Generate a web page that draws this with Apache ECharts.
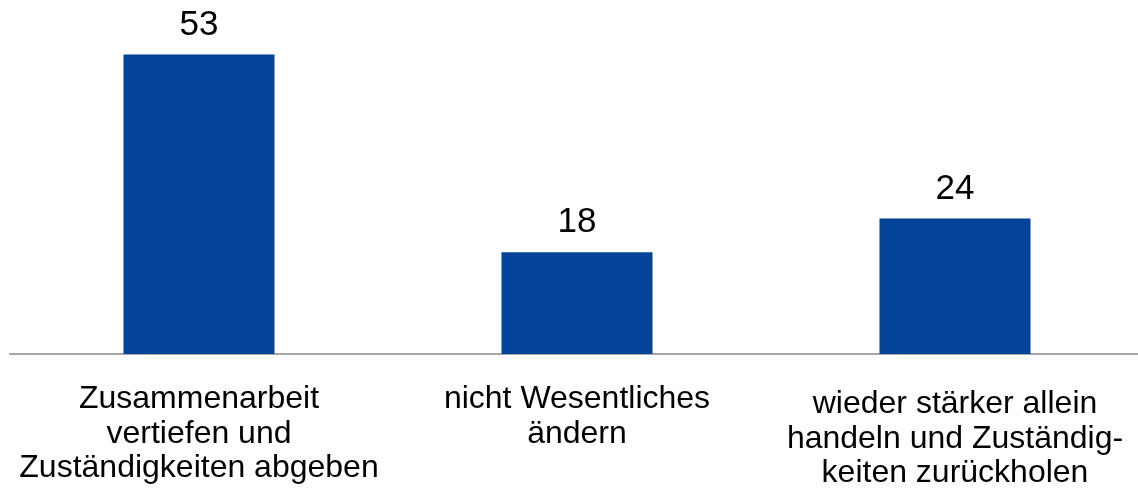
<!DOCTYPE html>
<html>
<head>
<meta charset="utf-8">
<script src="https://cdn.jsdelivr.net/npm/echarts@6/dist/echarts.min.js"></script>
<style>
html,body{margin:0;padding:0;background:#fff;overflow:hidden;}
#chart{width:1144px;height:494px;}
</style>
</head>
<body>
<div id="chart"></div>
<script>
const categories = [
  "Zusammenarbeit\nvertiefen und\nZuständigkeiten abgeben",
  "nicht Wesentliches\nändern",
  "wieder stärker allein\nhandeln und Zuständig-\nkeiten zurückholen"
];
const values = [53, 18, 24];
const labelOffsets = [0, 0, 5];

const chart = echarts.init(document.getElementById('chart'), null, {renderer: 'canvas'});
chart.setOption({
  animation: false,
  backgroundColor: '#ffffff',
  grid: {left: 10, right: 0, top: 15, bottom: 140, containLabel: false},
  xAxis: {
    type: 'category',
    data: categories.map((c, i) => ({value: c, textStyle: {padding: [labelOffsets[i], 0, 0, 0]}})),
    axisLine: {show: true, lineStyle: {color: '#a6a6a6', width: 2}},
    axisTick: {show: false},
    axisLabel: {
      interval: 0,
      margin: 28,
      color: '#000000',
      fontFamily: '"Liberation Sans", Arial, sans-serif',
      fontSize: 32,
      lineHeight: 34.5,
      align: 'center'
    }
  },
  yAxis: {
    type: 'value',
    min: 0,
    max: 60,
    show: false,
    splitLine: {show: false}
  },
  series: [{
    type: 'bar',
    data: values,
    barWidth: 151,
    itemStyle: {color: '#034399'},
    label: {
      show: true,
      position: 'top',
      distance: 12,
      color: '#000000',
      fontFamily: '"Liberation Sans", Arial, sans-serif',
      fontSize: 35
    }
  }]
});
</script>
</body>
</html>
